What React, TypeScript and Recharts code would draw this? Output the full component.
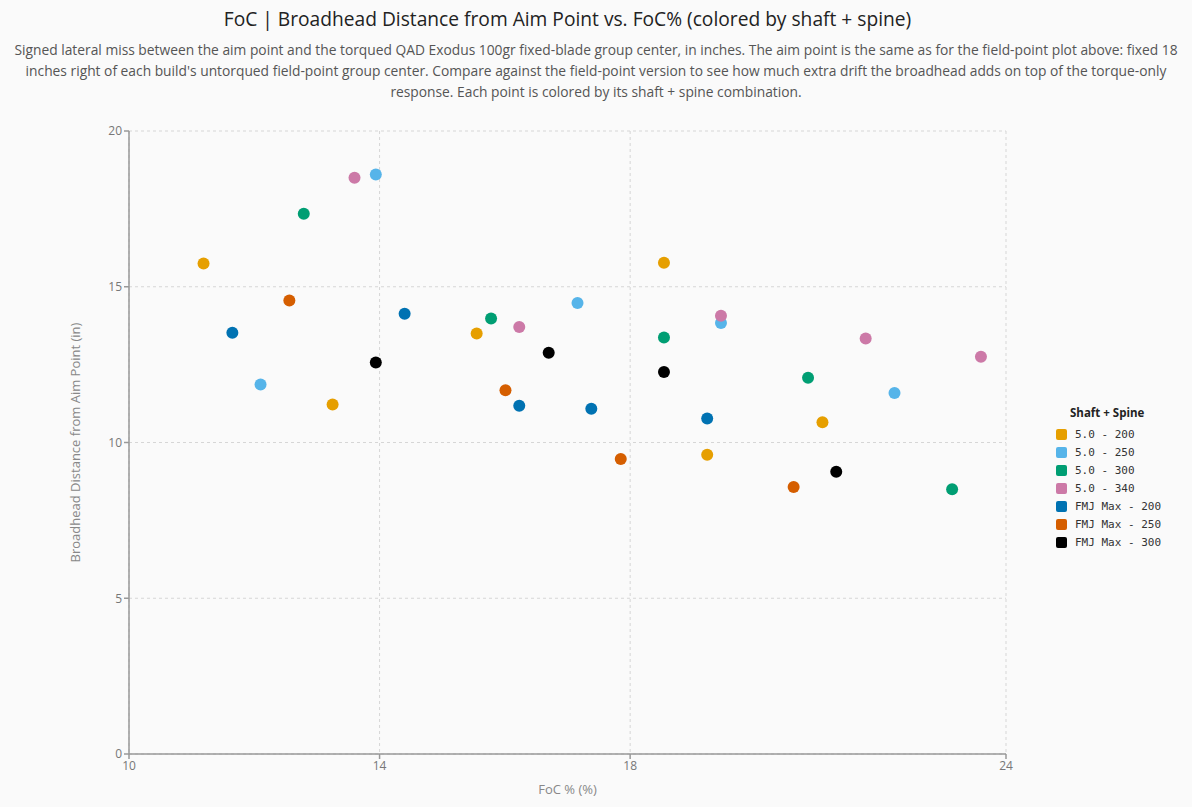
import React from "react";
import {
  ScatterChart,
  Scatter,
  XAxis,
  YAxis,
  CartesianGrid,
} from "recharts";

const FONT = "'Open Sans', Lato, sans-serif";

const seriesNames = [
  "5.0 - 200",
  "5.0 - 250",
  "5.0 - 300",
  "5.0 - 340",
  "FMJ Max - 200",
  "FMJ Max - 250",
  "FMJ Max - 300",
];
const seriesColors = [
  "#E69F00",
  "#56B4E9",
  "#009E73",
  "#CC79A7",
  "#0072B2",
  "#D55E00",
  "#000000",
];

const s50_200 = [
  { foc: 11.19, dist: 15.75 },
  { foc: 13.25, dist: 11.22 },
  { foc: 15.55, dist: 13.5 },
  { foc: 18.54, dist: 15.77 },
  { foc: 19.23, dist: 9.61 },
  { foc: 21.07, dist: 10.65 },
];
const s50_250 = [
  { foc: 12.1, dist: 11.86 },
  { foc: 13.94, dist: 18.6 },
  { foc: 17.16, dist: 14.48 },
  { foc: 19.45, dist: 13.84 },
  { foc: 22.22, dist: 11.59 },
];
const s50_300 = [
  { foc: 12.79, dist: 17.34 },
  { foc: 15.78, dist: 13.98 },
  { foc: 18.54, dist: 13.37 },
  { foc: 20.84, dist: 12.08 },
  { foc: 23.14, dist: 8.5 },
];
const s50_340 = [
  { foc: 13.6, dist: 18.5 },
  { foc: 16.23, dist: 13.71 },
  { foc: 19.45, dist: 14.07 },
  { foc: 21.76, dist: 13.34 },
  { foc: 23.6, dist: 12.75 },
];
const fmj_200 = [
  { foc: 11.65, dist: 13.52 },
  { foc: 14.4, dist: 14.13 },
  { foc: 16.23, dist: 11.18 },
  { foc: 17.38, dist: 11.08 },
  { foc: 19.23, dist: 10.77 },
];
const fmj_250 = [
  { foc: 12.56, dist: 14.56 },
  { foc: 16.01, dist: 11.68 },
  { foc: 17.85, dist: 9.47 },
  { foc: 20.61, dist: 8.57 },
];
const fmj_300 = [
  { foc: 13.94, dist: 12.57 },
  { foc: 16.7, dist: 12.88 },
  { foc: 18.54, dist: 12.26 },
  { foc: 21.29, dist: 9.06 },
];

const seriesData = [s50_200, s50_250, s50_300, s50_340, fmj_200, fmj_250, fmj_300];

const xTicks = [10, 14, 18, 24];
const yTicks = [0, 5, 10, 15, 20];

const titleText =
  "FoC | Broadhead Distance from Aim Point vs. FoC% (colored by shaft + spine)";
const subtitleLines = [
  "Signed lateral miss between the aim point and the torqued QAD Exodus 100gr fixed-blade group center, in inches. The aim point is the same as for the field-point plot above: fixed 18",
  "inches right of each build's untorqued field-point group center. Compare against the field-point version to see how much extra drift the broadhead adds on top of the torque-only",
  "response. Each point is colored by its shaft + spine combination.",
];

const LegendBox = () => (
  <div style={{ position: "absolute", left: 1056, top: 405, fontFamily: FONT }}>
    <div
      style={{
        fontWeight: 700,
        fontSize: 11.5,
        color: "#222",
        marginLeft: 14,
        marginBottom: 5,
      }}
    >
      Shaft + Spine
    </div>
    {seriesNames.map((n, i) => (
      <div key={n} style={{ display: "flex", alignItems: "center", height: 18 }}>
        <span
          style={{
            display: "inline-block",
            width: 11,
            height: 11,
            borderRadius: 2,
            background: seriesColors[i],
            marginRight: 8,
          }}
        />
        <span
          style={{
            fontFamily: "'DejaVu Sans Mono', monospace",
            fontSize: 11,
            color: "#333",
            whiteSpace: "pre",
          }}
        >
          {n}
        </span>
      </div>
    ))}
  </div>
);

export default function App() {
  return (
    <div
      style={{
        position: "absolute",
        left: 0,
        top: 0,
        width: 1192,
        height: 807,
        background: "#fafafa",
        fontFamily: FONT,
        overflow: "hidden",
      }}
    >
      <div
        style={{
          position: "absolute",
          left: 129,
          width: 877,
          top: 5,
          textAlign: "center",
          fontSize: 19.2,
          color: "#222",
          whiteSpace: "nowrap",
        }}
      >
        {titleText}
      </div>
      <div
        style={{
          position: "absolute",
          left: 0,
          width: 1192,
          top: 39,
          textAlign: "center",
          fontSize: 13.8,
          lineHeight: "21px",
          color: "#555",
        }}
      >
        {subtitleLines.map((l, i) => (
          <div key={i} style={{ whiteSpace: "nowrap" }}>
            {l}
          </div>
        ))}
      </div>
      <div style={{ position: "absolute", left: 0, top: 0 }}>
        <ScatterChart
          width={1192}
          height={807}
          margin={{ top: 131, right: 186, bottom: 23, left: 69 }}
        >
          <CartesianGrid stroke="#d6d6d6" strokeDasharray="3 3" />
          <XAxis
            type="number"
            dataKey="foc"
            domain={[10, 24]}
            ticks={xTicks}
            interval={0}
            height={30}
            stroke="#999"
            strokeWidth={1.5}
            tickSize={5}
            tick={{ fill: "#777", fontSize: 12, fontFamily: FONT }}
            label={{
              value: "FoC % (%)",
              position: "insideBottom",
              offset: -10,
              fill: "#888",
              fontSize: 13,
              fontFamily: FONT,
            }}
          />
          <YAxis
            type="number"
            dataKey="dist"
            domain={[0, 20]}
            ticks={yTicks}
            interval={0}
            width={60}
            stroke="#999"
            strokeWidth={1.5}
            tickSize={5}
            tick={{ fill: "#777", fontSize: 12, fontFamily: FONT }}
            label={{
              value: "Broadhead Distance from Aim Point (in)",
              angle: -90,
              position: "insideLeft",
              offset: 0,
              dx: 6,
              fill: "#888",
              fontSize: 13,
              fontFamily: FONT,
              style: { textAnchor: "middle" },
            }}
          />
          {seriesData.map((d, i) => (
            <Scatter
              key={seriesNames[i]}
              name={seriesNames[i]}
              data={d}
              fill={seriesColors[i]}
              isAnimationActive={false}
              shape={(p: any) => (
                <circle cx={p.cx} cy={p.cy} r={6} fill={seriesColors[i]} />
              )}
            />
          ))}
        </ScatterChart>
      </div>
      <LegendBox />
    </div>
  );
}
